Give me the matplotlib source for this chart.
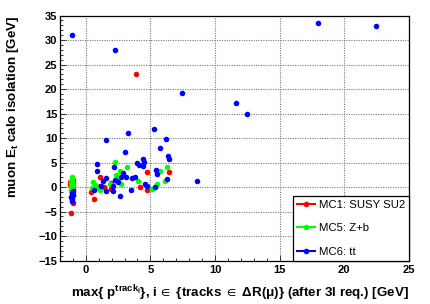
import matplotlib
matplotlib.use("Agg")
import matplotlib.pyplot as plt
from matplotlib.lines import Line2D
from matplotlib.ticker import MultipleLocator

plt.rcParams['font.family'] = ['Liberation Sans', 'DejaVu Sans']
plt.rcParams['mathtext.fontset'] = 'custom'
plt.rcParams['mathtext.rm'] = 'Liberation Sans:bold'
plt.rcParams['mathtext.it'] = 'Liberation Sans:bold'
plt.rcParams['mathtext.bf'] = 'Liberation Sans:bold'
plt.rcParams['mathtext.default'] = 'rm'
plt.rcParams['mathtext.fallback'] = 'stixsans'

# MC1: SUSY SU2
mc1_x = [-1.15, -1.0, -0.95, -1.0, -1.2, -0.95, -1.05, -1.15, -1.1, -0.95, -1.2, -1.0,
         3.87, 1.07, 1.07, 0.37, 0.64, 1.4, 1.98, 1.98, 4.7, 4.7, 4.18, 6.45]
mc1_y = [-5.2, 1.5, 0.8, 0.2, 0.5, -0.5, -1.0, -2.0, -2.8, -1.6, 1.0, -3.2,
         23.1, 2.1, 0.13, -1.1, -2.45, 0.0, 0.8, -0.4, 3.0, -0.55, 0.1, 3.0]

# MC5: Z+b
mc5_x = [-1.1, -1.05, -1.15, -1.0, -1.1, -1.05, -1.15, -1.0, -1.1, -1.05, -1.15,
         2.27, 3.17, 6.32, 5.72, 6.15, 5.52, 5.14, 4.05, 2.68, 2.37, 2.5, 2.76,
         1.07, 0.94, 0.57, 0.75, 0.5, 1.85]
mc5_y = [2.0, 1.5, 1.0, 0.5, 0.0, -0.3, -0.7, -1.0, -1.3, 0.8, 0.2,
         5.1, 4.0, 4.0, 3.3, 1.15, 0.6, -0.35, 1.15, 3.3, 2.5, 1.8, 0.67,
         -0.7, -0.1, 0.95, 0.5, -0.2, 0.6]

# MC6: tt
mc6_x = [-1.1, -1.0, -1.15, -1.05, -1.1, -1.0,
         -1.03, 2.27, 3.25, 1.6, 5.3, 6.2, 5.75, 7.42, 17.97, 22.48, 11.6, 12.45, 8.6,
         3.07, 0.9, 0.83, 2.17, 3.95, 4.13, 4.4, 4.47, 4.4, 6.37, 6.45, 5.41, 5.5,
         6.26, 5.37, 4.6, 4.72, 3.8, 3.55, 3.15, 2.76, 2.89, 2.53, 2.11, 2.11,
         2.65, 3.48, 2.24, 1.6, 1.3, 1.2, 0.64, 1.54]
mc6_y = [-1.2, -1.6, -2.0, -2.4, -2.9, -0.8,
         30.96, 27.96, 11.0, 9.5, 11.8, 9.8, 8.0, 19.2, 33.5, 32.9, 17.2, 15.0, 1.2,
         7.06, 4.6, 3.3, 4.07, 5.0, 4.4, 5.7, 5.1, 4.35, 6.25, 5.8, 3.4, 2.7,
         1.6, 0.0, 0.6, 0.26, 2.0, 1.8, 2.0, 2.1, 2.8, 0.95, 0.13, -0.9,
         -1.9, -0.7, 1.35, 1.8, 1.15, 0.13, -0.7, -0.9]

labels = ['MC1: SUSY SU2', 'MC5: Z+b', 'MC6: tt']
colors = ['#ff0000', '#00ff00', '#0000ff']

fig = plt.figure(figsize=(4.31, 3.04), dpi=100)
ax = fig.add_axes([0.139, 0.143, 0.81, 0.806])

for xs, ys, c in zip([mc1_x, mc5_x, mc6_x], [mc1_y, mc5_y, mc6_y], colors):
    ax.plot(xs, ys, linestyle='None', marker='o', markersize=4,
            color=c, markeredgewidth=0, zorder=3)

ax.set_xlim(-2, 25)
ax.set_ylim(-15, 35)
ax.xaxis.set_major_locator(MultipleLocator(5))
ax.xaxis.set_minor_locator(MultipleLocator(1))
ax.yaxis.set_major_locator(MultipleLocator(5))
ax.yaxis.set_minor_locator(MultipleLocator(1))
ax.tick_params(which='both', direction='in', labelsize=8, width=0.7, color='#333333')
ax.tick_params(which='major', length=4.5)
ax.tick_params(which='minor', length=2.3)
for lab in ax.get_xticklabels() + ax.get_yticklabels():
    lab.set_fontweight('bold')
ax.tick_params(axis='x', pad=3)
ax.tick_params(axis='y', pad=2)
ax.grid(True, which='major', linestyle=(0, (1, 1.2)), color='#777777', linewidth=0.8)
for sp in ax.spines.values():
    sp.set_linewidth(0.9)

fig.text(0.949, 0.022, r"max{ p$^{track_{i}}$}, i$\,\in$ {tracks $\in$ ΔR(μ)} (after 3l req.) [GeV]",
         ha='right', va='baseline', fontsize=9.6, fontweight='bold')
fig.text(0.03, 0.949, r"muon E$_{t}$ calo isolation [GeV]", rotation=90,
         ha='center', va='top', fontsize=9.6, fontweight='bold')

handles = [Line2D([0], [0], color=c, marker='o', markersize=3, linewidth=1.5)
           for c in colors]
leg = ax.legend(handles, labels, loc='lower right', bbox_to_anchor=(1.0, 0.0),
                borderaxespad=0, fancybox=False, edgecolor='black', framealpha=1,
                fontsize=8.2, handlelength=1.6, handletextpad=0.35,
                labelspacing=1.15, borderpad=0.35)
leg.get_frame().set_linewidth(0.9)
leg.set_zorder(5)

fig.savefig('out.png', dpi=100)
